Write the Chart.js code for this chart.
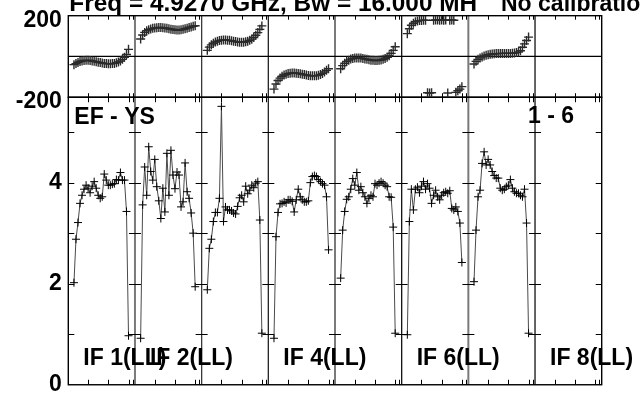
<!DOCTYPE html>
<html><head><meta charset="utf-8">
<script src="https://cdn.jsdelivr.net/npm/chart.js@4.4.0/dist/chart.umd.min.js"></script>
<style>html,body{margin:0;padding:0;background:#fff;overflow:hidden}canvas{display:block}</style>
</head><body>
<canvas id="c" width="641" height="397"></canvas>
<script>
// ---------- data ----------
const titleText = "Freq = 4.9270 GHz, Bw = 16.000 MH";
const titleNote = "No calibration";
const baselineLabel = "EF - YS";
const sourceLabel = "1 - 6";
const ifNames = ["IF 1(LL)", "IF 2(LL)", "IF 3(LL)", "IF 4(LL)", "IF 5(LL)", "IF 6(LL)", "IF 7(LL)", "IF 8(LL)"];
const labelledIFs = [1, 2, 4, 6, 8];
const firstChannel = 3;
const channelTicks = [10, 20, 30, 32];
const ampTickLabels = [0, 2, 4];
const ampTickMarks = [1, 2, 3, 4, 5];
const phaseTickLabels = [-200, 200];

const ampIF1 = [2.02, 2.88, 3.21, 3.59, 3.75, 3.87, 3.95, 3.89, 3.80, 3.93, 4.02, 3.89, 3.75, 3.69, 3.72, 4.17, 4.05, 3.95, 3.95, 3.97, 3.98, 4.06, 4.05, 4.20, 4.05, 4.05, 3.43, 0.97];
const ampIF2 = [0.92, 3.56, 4.31, 3.75, 4.71, 4.22, 4.05, 4.46, 3.92, 3.64, 3.29, 3.89, 3.42, 4.58, 3.75, 4.64, 4.15, 3.88, 4.21, 4.15, 3.52, 3.62, 4.39, 3.82, 3.69, 3.40, 3.00, 1.94];
const ampIF3 = [1.88, 2.70, 2.88, 3.23, 3.41, 3.41, 3.69, 5.51, 3.23, 3.52, 3.46, 3.46, 3.44, 3.40, 3.38, 3.53, 3.70, 3.75, 3.62, 3.93, 3.78, 3.85, 3.95, 3.90, 3.99, 4.02, 3.26, 1.02];
const ampIF4 = [0.92, 2.93, 3.41, 3.58, 3.59, 3.62, 3.60, 3.66, 3.66, 3.63, 3.42, 3.66, 3.87, 3.72, 3.66, 3.62, 3.62, 3.64, 4.00, 4.12, 4.14, 4.12, 4.06, 4.02, 3.98, 3.95, 3.72, 2.67];
const ampIF5 = [2.11, 3.06, 3.43, 3.67, 3.72, 3.87, 4.08, 3.95, 4.20, 3.85, 3.92, 3.80, 3.72, 3.59, 3.69, 3.75, 3.72, 3.98, 3.95, 3.99, 4.02, 3.99, 3.95, 3.92, 3.72, 3.71, 3.12, 1.02];
const ampIF6 = [0.99, 3.23, 3.87, 3.46, 3.87, 3.91, 3.80, 3.93, 4.02, 3.87, 3.98, 3.89, 3.59, 3.75, 3.85, 3.72, 3.66, 3.75, 3.80, 3.82, 3.79, 3.84, 3.49, 3.46, 3.52, 3.43, 3.20, 2.42];
const ampIF7 = [2.04, 3.06, 3.72, 3.85, 4.38, 4.61, 4.35, 4.46, 4.35, 4.22, 4.14, 4.09, 4.09, 3.89, 3.85, 3.87, 3.92, 3.95, 4.06, 3.89, 3.82, 3.79, 3.79, 3.75, 3.72, 3.87, 3.20, 1.02];
const ampIF8 = [];

const phaseIF1 = [-40, -35, -29, -25, -22, -20, -19, -19, -20, -22, -24, -26, -28, -30, -32, -34, -35, -36, -36, -35, -34, -31, -27, -22, -14, -4, 10, 35];
const phaseIF2 = [86, 105, 118, 126, 131, 135, 138, 140, 141, 142, 142, 141, 140, 138, 136, 134, 132, 131, 130, 130, 131, 133, 136, 139, 142, 145, 148, 151];
const phaseIF3 = [30, 46, 57, 65, 71, 75, 78, 80, 81, 81, 80, 79, 77, 75, 73, 71, 70, 70, 70, 72, 75, 79, 85, 93, 104, 117, 133, 150];
const phaseIF4 = [-160, -135, -118, -106, -97, -91, -87, -84, -82, -81, -81, -82, -83, -85, -87, -89, -91, -93, -94, -95, -95, -94, -92, -88, -83, -76, -68, -60];
const phaseIF5 = [-60, -45, -33, -24, -18, -13, -10, -8, -7, -7, -8, -10, -12, -14, -16, -18, -19, -20, -20, -19, -17, -14, -10, -4, 4, 15, 30, 48];
const phaseIF6 = [112, 136, 153, 163, 170, 174, 176, 177, 178, 178, -178, -179, -178, 178, 179, 179, 178, 179, 178, 179, -179, 178, 179, 178, -176, -168, -160, -148];
const phaseIF7 = [-37, -24, -14, -7, -2, 2, 6, 9, 11, 12, 13, 14, 14, 15, 15, 15, 15, 15, 15, 16, 17, 19, 22, 28, 45, 62, 78, 95];
const phaseIF8 = [];

const ampSeries = [ampIF1, ampIF2, ampIF3, ampIF4, ampIF5, ampIF6, ampIF7, ampIF8];
const phaseSeries = [phaseIF1, phaseIF2, phaseIF3, phaseIF4, phaseIF5, phaseIF6, phaseIF7, phaseIF8];

// ---------- layout constants ----------
const PANEL = 33;          // channel units per IF panel
const CH_SHIFT = -0.2;
const FONT = "'Liberation Sans', Arial, Helvetica, sans-serif";
const nPanels = ampSeries.length;

function toPoints(values, p) {
  return values.map((v, i) => ({ x: p * PANEL + firstChannel + i + CH_SHIFT, y: v }));
}

const datasets = [];
ampSeries.forEach((vals, p) => {
  datasets.push({
    data: toPoints(vals, p), yAxisID: 'yA', showLine: true,
    borderColor: '#4a4a4a', borderWidth: 1, tension: 0,
    pointStyle: 'cross', pointRadius: 4, pointBorderColor: '#000', pointBorderWidth: 1,
    pointBackgroundColor: '#000'
  });
});
phaseSeries.forEach((vals, p) => {
  datasets.push({
    data: toPoints(vals, p), yAxisID: 'yP', showLine: false,
    pointStyle: 'cross', pointRadius: 4.5, pointBorderColor: '#2a2a2a', pointBorderWidth: 1.4
  });
});

const boundaryColors = ['#000', '#7a7a7a', '#3a3a3a', '#222', '#7a7a7a', '#111', '#7a7a7a', '#111'];

const framePlugin = {
  id: 'frame',
  beforeDatasetsDraw(chart) {
    const { ctx, scales: { x, yP, yA } } = chart;
    const L = x.getPixelForValue(0), R = x.getPixelForValue(nPanels * PANEL);
    const pTop = yP.getPixelForValue(200), pBot = yP.getPixelForValue(-200);
    const aBot = yA.getPixelForValue(0);
    ctx.save();
    // panel boundaries
    for (let p = 1; p < nPanels; p++) {
      const px = x.getPixelForValue(p * PANEL);
      ctx.strokeStyle = boundaryColors[p];
      ctx.lineWidth = boundaryColors[p] === '#7a7a7a' ? 2 : 1.3;
      ctx.beginPath(); ctx.moveTo(px, pTop); ctx.lineTo(px, aBot); ctx.stroke();
    }
    // zero phase line
    ctx.strokeStyle = '#000'; ctx.lineWidth = 1.2;
    const z = yP.getPixelForValue(0);
    ctx.beginPath(); ctx.moveTo(L, z); ctx.lineTo(R, z); ctx.stroke();
    // frames
    ctx.lineWidth = 1.4;
    ctx.strokeRect(L, pTop, R - L, pBot - pTop);
    ctx.strokeRect(L, pBot, R - L, aBot - pBot);
    // channel ticks
    ctx.lineWidth = 1;
    for (let p = 0; p < nPanels; p++) {
      channelTicks.forEach(c => {
        const tx = Math.round(x.getPixelForValue(p * PANEL + c + CH_SHIFT)) + 0.5;
        ctx.beginPath();
        ctx.moveTo(tx, pTop); ctx.lineTo(tx, pTop + 4);
        ctx.moveTo(tx, pBot - 4); ctx.lineTo(tx, pBot + 5);
        ctx.moveTo(tx, aBot); ctx.lineTo(tx, aBot - 5);
        ctx.stroke();
      });
    }
    // amplitude ticks at panel edges
    ampTickMarks.forEach(v => {
      const ty = Math.round(yA.getPixelForValue(v)) + 0.5;
      ctx.beginPath();
      ctx.moveTo(L, ty); ctx.lineTo(L + 6, ty);
      ctx.moveTo(R, ty); ctx.lineTo(R - 6, ty);
      for (let p = 1; p < nPanels; p++) {
        const px = x.getPixelForValue(p * PANEL);
        ctx.moveTo(px - 6, ty); ctx.lineTo(px + 6, ty);
      }
      ctx.stroke();
    });
    ctx.restore();
  },
  afterDraw(chart) {
    const { ctx, scales: { x, yP, yA } } = chart;
    ctx.save();
    ctx.fillStyle = '#000';
    ctx.font = "bold 23px " + FONT;
    ctx.textBaseline = 'alphabetic';
    ctx.textAlign = 'left';
    const L = x.getPixelForValue(0);
    // title (slightly wider glyph spacing as in the reference)
    ctx.save();
    ctx.translate(L + 1, 11);
    ctx.scale(1.06, 1);
    ctx.fillText(titleText, 0, 0);
    ctx.restore();
    ctx.fillText(titleNote, 501, 11);
    const aTop = yP.getPixelForValue(-200);
    ctx.fillText(baselineLabel, L + 6, aTop + 27);
    ctx.fillText(sourceLabel, x.getPixelForValue(7 * PANEL) - 7, aTop + 26);
    labelledIFs.forEach(n => {
      ctx.fillText(ifNames[n - 1], x.getPixelForValue((n - 1) * PANEL) + 15, yA.getPixelForValue(0) - 20);
    });
    ctx.restore();
  }
};

const tickFont = { family: FONT, size: 23, weight: 'bold', lineHeight: 0.5 };

new Chart(document.getElementById('c'), {
  type: 'scatter',
  data: { datasets },
  options: {
    responsive: false, animation: false, devicePixelRatio: 1,
    layout: { padding: { left: 0, right: 39.3, top: 15.7, bottom: 12 } },
    plugins: { legend: { display: false }, tooltip: { enabled: false }, title: { display: false } },
    scales: {
      x: { type: 'linear', min: 0, max: nPanels * PANEL, display: false },
      yA: {
        type: 'linear', position: 'left', stack: 'v', stackWeight: 287.7, min: 0, max: 5.69,
        afterBuildTicks: s => { s.ticks = ampTickLabels.map(v => ({ value: v })); },
        afterFit: s => { s.width = 68.3; },
        grid: { display: false, drawTicks: false }, border: { display: false },
        ticks: { font: tickFont, color: '#000', padding: 6.5, labelOffset: 0, callback: v => String(v) }
      },
      yP: {
        type: 'linear', position: 'left', stack: 'v', stackWeight: 81.6, min: -200, max: 200,
        afterBuildTicks: s => { s.ticks = phaseTickLabels.map(v => ({ value: v })); },
        afterFit: s => { s.width = 68.3; },
        grid: { display: false, drawTicks: false }, border: { display: false },
        ticks: { font: tickFont, color: '#000', padding: 6.5, labelOffset: 4.5, callback: v => String(v) }
      }
    }
  },
  plugins: [framePlugin]
});
</script>
</body></html>
